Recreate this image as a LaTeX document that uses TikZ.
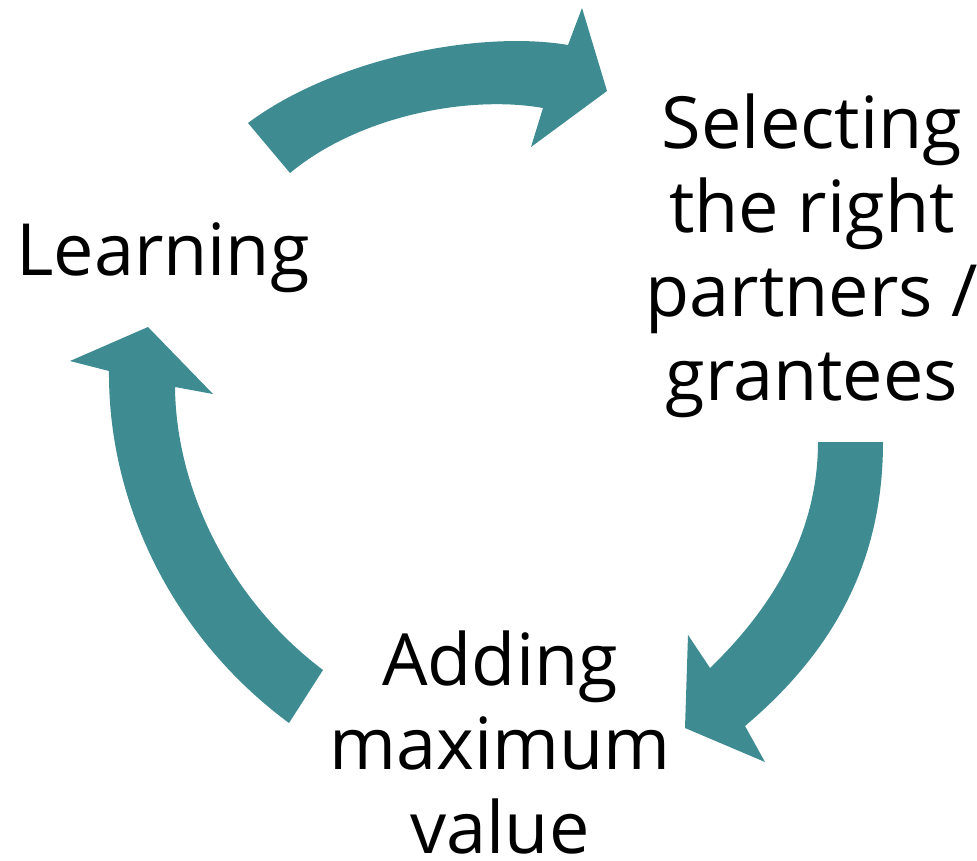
\documentclass[tikz,border=0pt]{standalone}
\usepackage{fontspec}
\setmainfont{Open Sans}
\usetikzlibrary{positioning}
\definecolor{cycleteal}{HTML}{3E8B91}

\begin{document}
\begin{tikzpicture}[x=1pt,y=-1pt,
		lbl/.style={align=center,anchor=base,inner sep=0pt,
			font=\fontsize{72}{84}\selectfont},
		cyclearrow/.style={fill=cycleteal,draw=none},
	]
		\useasboundingbox (0,0) rectangle (977,861);

		% base anchor sits on the last line
		\node[lbl] (learn) at (163,275) {Learning};
		\node[lbl] (select) at (812,400) {Selecting\\the right\\partners /\\grantees};
		\node[lbl] (adding) at (500,853) {Adding\\maximum\\value};

		% learning -> selecting
		\fill[cyclearrow] (248,123) .. controls (335,58) and (480,30) .. (568,45)
			-- (582,8) -- (607,91) -- (531,147) -- (543,108)
			.. controls (470,95) and (360,115) .. (290,173) -- cycle;
		% selecting -> adding
		\fill[cyclearrow] (883,442) .. controls (883,560) and (835,650) .. (745,726)
			-- (765,762) -- (685,728) -- (688,635) -- (710,668)
			.. controls (765,615) and (818,540) .. (818,442) -- cycle;
		% adding -> learning
		\fill[cyclearrow] (289,723) .. controls (170,635) and (108,500) .. (109,371)
			-- (70,361) -- (148,327) -- (213,394) -- (175,387)
			.. controls (176,490) and (230,600) .. (323,670) -- cycle;
	\end{tikzpicture}
\end{document}
